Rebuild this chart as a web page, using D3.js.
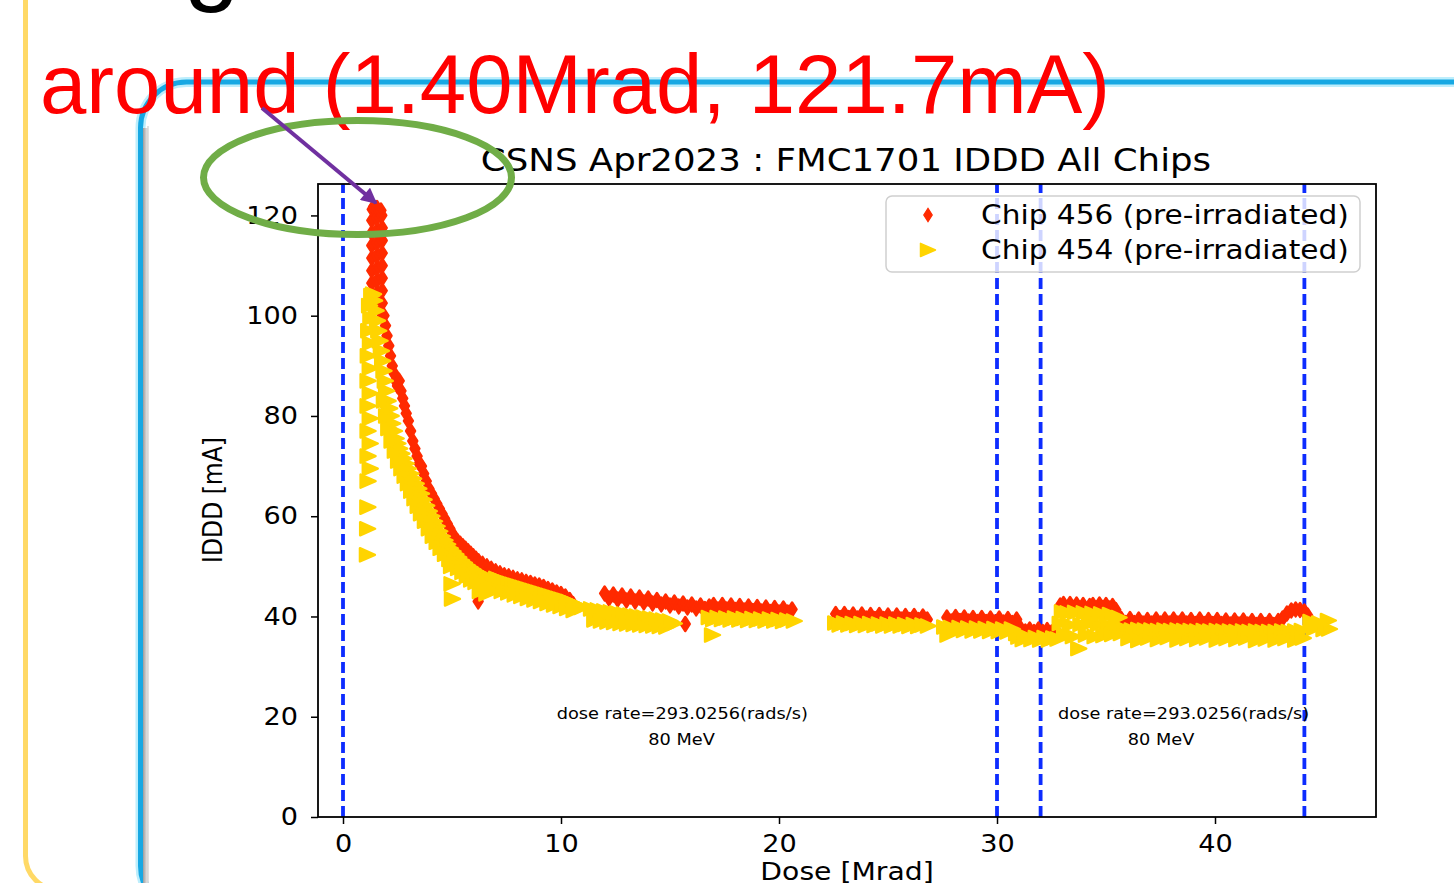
<!DOCTYPE html>
<html>
<head>
<meta charset="utf-8">
<script src="https://cdn.jsdelivr.net/npm/d3@7"></script>
<style>
body { margin: 0; background: #fff; overflow: hidden; }
text { font-family: "DejaVu Sans", sans-serif; fill: #000; }
</style>
</head>
<body>
<svg id="slide"></svg>
<script>
// chip 456 (red diamonds): [dose Mrad, IDDD mA]
var chip456 = [
  [1.32,104],[1.32,106.5],[1.32,109],[1.32,111.5],[1.32,114],[1.32,116.5],[1.32,119],[1.34,121.2],[1.40,121.7],
  [1.56,102],[1.56,104.5],[1.56,107],[1.56,109.5],[1.56,112],[1.56,114.5],[1.56,117],[1.56,119.5],[1.56,121.5],
  [1.80,100],[1.80,102.5],[1.80,105],[1.80,107.5],[1.80,110],[1.80,112.5],[1.80,115],[1.80,117.5],[1.78,120],[1.74,121],
  [1.88,100],[1.95,98],[2.02,96],[2.1,94],[2.18,92],[2.26,90],[2.34,88.5],[2.42,87],[2.5,86],[2.58,87],[2.66,85],[2.74,83.5],[2.82,82],[2.9,80.5],[3.0,79],[3.1,77],[3.2,75],[3.3,73.5],[3.4,72],[3.5,70.5],[3.6,70],[3.7,68.5],[3.82,67],[3.94,65.5],[4.06,64.5],[4.18,63.5],[4.3,62.5],[4.42,61.5],[4.54,60.5],[4.66,59.5],[4.78,58.5],[4.9,57.5],[5.02,56.5],[5.14,55.5],[5.26,55],[5.38,54.5],[5.5,54],[5.62,53.5],[5.74,53],[5.86,52.5],[5.98,52],[6.1,51.5],[6.15,47],[6.2,43],[6.22,51],[6.4,50.5],[6.6,50],[6.8,49.5],[7.0,49],[7.2,48.6],[7.4,48.2],[7.6,48],[7.8,47.7],[8.0,47.4],[8.2,47.2],[8.4,46.9],[8.6,46.7],[8.8,46.4],[9.0,46.2],[9.2,45.9],[9.4,45.5],[9.6,45.2],[9.8,44.8],[10.0,44.5],[10.2,44.0],[10.4,43.3],[10.55,42.5],
  [12.0,44.6],[12.2,43.6],[12.4,44.4],[12.6,43.4],[12.8,44.2],[13.0,43.2],[13.2,44.0],[13.4,43.0],[13.6,43.8],[13.8,42.8],[14.0,43.6],[14.2,42.6],[14.4,43.3],[14.6,42.4],[14.8,43.0],[15.0,42.2],[15.2,42.8],[15.4,42.0],[15.6,42.6],[15.7,38.5],[15.8,41.8],[16.0,42.4],[16.2,41.6],[16.4,42.2],[16.6,41.5],[16.8,42.0],
  [17.0,42.3],[17.2,41.4],[17.4,42.3],[17.6,41.4],[17.8,42.2],[18.0,41.3],[18.2,42.1],[18.4,41.2],[18.6,42.0],[18.8,41.1],[19.0,41.9],[19.2,41.0],[19.4,41.8],[19.6,40.9],[19.8,41.7],[20.0,40.8],[20.2,41.6],[20.4,40.8],[20.6,41.4],
  [22.6,40.5],[22.8,39.7],[23.0,40.5],[23.2,39.7],[23.4,40.4],[23.6,39.6],[23.8,40.4],[24.0,39.6],[24.2,40.3],[24.4,39.5],[24.6,40.3],[24.8,39.5],[25.0,40.2],[25.2,39.4],[25.4,40.2],[25.6,39.4],[25.8,40.1],[26.0,39.3],[26.2,40.1],[26.4,39.3],[26.6,40.0],[26.8,39.4],
  [27.7,39.8],[27.9,39.0],[28.1,39.9],[28.3,39.1],[28.5,39.8],[28.7,39.0],[28.9,39.7],[29.1,38.9],[29.3,39.7],[29.5,38.9],[29.7,39.6],[29.9,38.8],[30.1,39.6],[30.3,38.8],[30.5,39.5],[30.7,38.7],[30.9,39.4],
  [31.1,37.5],[31.3,37.0],[31.5,37.4],[31.7,36.9],[31.9,37.4],[32.1,36.9],[32.3,37.3],[32.5,36.8],[32.7,37.2],
  [32.9,42.2],[33.05,42.5],[33.2,41.6],[33.35,42.5],[33.5,41.7],[33.65,42.4],[33.8,41.6],[33.95,42.3],[34.1,41.2],[34.25,42.1],[34.4,42.3],[34.55,41.6],[34.7,42.4],[34.85,41.7],[35.0,42.3],[35.15,41.6],[35.3,42.1],[35.45,41.3],
  [35.7,39.5],[35.9,38.7],[36.1,39.5],[36.3,38.7],[36.5,39.4],[36.7,38.6],[36.9,39.3],[37.1,38.6],[37.3,39.4],[37.5,38.6],[37.7,39.4],[37.9,38.6],[38.1,39.4],[38.3,38.6],[38.5,39.4],[38.7,38.6],[38.9,39.3],[39.1,38.5],[39.3,39.4],[39.5,38.5],[39.7,39.3],[39.9,38.5],[40.1,39.3],[40.3,38.5],[40.5,39.2],[40.7,38.4],[40.9,39.2],[41.1,38.4],[41.3,39.2],[41.5,38.4],[41.7,39.1],[41.9,38.3],[42.1,39.1],[42.3,38.3],[42.5,39.1],[42.7,38.3],[42.9,39.1],
  [43.1,39.6],[43.3,40.6],[43.5,41.2],[43.7,41.4],[43.9,41.3],[44.1,41.0],[44.25,40.2]
];

// chip 454 (yellow triangles): [dose Mrad, IDDD mA]
var chip454 = [
  [1.12,52.3],[1.13,57.5],[1.14,61.8],[1.15,67],[1.25,69.5],[1.15,72],[1.25,74.5],[1.15,77],[1.25,79.5],[1.15,82],[1.25,84.5],[1.15,87],[1.25,89.5],[1.16,92],[1.26,94.5],[1.18,97],[1.28,99.5],[1.22,102],[1.32,104],[1.4,104.3],
  [1.45,103],[1.52,101],[1.58,99],[1.64,97],[1.7,95],[1.76,93],[1.82,91],[1.88,89],[1.94,87],[2.0,85],[2.07,83],[2.14,81.5],[2.21,80],[2.28,78.5],[2.36,77],[2.44,75.5],[2.52,74.5],[2.6,73.5],[2.7,72.5],[2.8,71.5],[2.9,70.5],[3.0,69.5],[3.12,68.5],[3.24,67.5],[3.36,66.5],[3.48,65.5],[3.6,64.5],[3.72,63.3],[3.84,62.1],[3.96,61],[4.08,60],[4.2,59],[4.32,58],[4.44,57],[4.56,56],[4.68,55.2],[4.8,54.4],[4.92,53.6],[4.98,50],[5.0,46.5],[5.02,43.5],[5.05,53],[5.18,52.4],[5.31,51.8],[5.44,51.2],[5.57,50.7],[5.7,50.2],[5.83,49.8],[5.96,49.4],[6.09,49],[6.22,48.7],[6.3,45],[6.35,48.4],[6.48,48.1],[6.6,44.5],[6.62,47.8],[6.76,47.5],[6.9,47.2],[7.0,46],
  [7.05,47.6],[7.2,47.3],[7.35,47.0],[7.5,46.8],[7.65,46.6],[7.8,46.4],[7.95,46.2],[8.1,46.0],[8.25,45.8],[8.4,45.6],[8.55,45.4],[8.7,45.2],[8.85,45.0],[9.0,44.8],[9.15,44.6],[9.3,44.4],[9.45,44.2],[9.6,44.0],[9.75,43.8],[9.9,43.6],[10.05,43.4],[10.2,43.2],[10.35,43.0],[10.5,42.7],[10.65,42.4],[10.8,42.1],[10.95,41.8],
  [1.9,83],[2.0,80],[2.1,77.5],[2.25,75],[2.4,73],[2.55,71],[2.7,69.5],[2.85,68],[3.0,66.5],[3.15,65],[3.3,63.5],[3.45,62],[3.6,60.5],[3.78,59],[3.96,57.5],[4.14,56],[4.32,54.8],[4.5,53.6],[4.7,52.4],[4.9,51.4],[5.1,50.5],[5.3,49.6],[5.5,48.8],[5.7,48.0],[5.9,47.3],[6.1,46.8],[6.4,46.4],[6.7,45.9],[7.0,45.4],[7.3,45.0],[7.6,44.7],[7.9,44.3],[8.2,44.0],[8.5,43.6],[8.8,43.3],[9.1,43.0],[9.4,42.6],[9.7,42.3],[10.0,42.0],[10.3,41.6],[10.6,41.2],
  [11.4,41.5],[11.55,39.3],[11.7,41.3],[11.85,39.1],[12.0,41.1],[12.15,38.9],[12.3,40.9],[12.45,38.8],[12.6,40.7],[12.75,38.6],[12.9,40.5],[13.05,38.5],[13.2,40.3],[13.35,38.4],[13.5,40.1],[13.65,38.3],[13.8,39.9],[13.95,38.2],[14.1,39.7],[14.25,38.1],[14.4,39.5],[14.55,38.0],[14.7,39.3],[14.85,37.9],[15.0,39.1],[15.2,38.6],
  [16.95,36.3],
  [16.8,39.8],[17.0,39.4],[17.2,39.8],[17.4,39.4],[17.6,39.7],[17.8,39.3],[18.0,39.7],[18.2,39.3],[18.4,39.6],[18.6,39.2],[18.8,39.6],[19.0,39.2],[19.2,39.5],[19.4,39.1],[19.6,39.5],[19.8,39.1],[20.0,39.4],[20.2,39.0],[20.4,39.3],[20.7,39.1],
  [22.6,38.7],[22.8,38.3],[23.0,38.7],[23.2,38.3],[23.4,38.6],[23.6,38.2],[23.8,38.6],[24.0,38.2],[24.2,38.6],[24.4,38.2],[24.6,38.5],[24.8,38.1],[25.0,38.5],[25.2,38.1],[25.4,38.5],[25.6,38.1],[25.8,38.4],[26.0,38.0],[26.2,38.4],[26.4,38.0],[26.6,38.3],[26.85,38.1],
  [27.6,37.9],[27.75,36.3],[27.9,37.8],[28.1,37.2],[28.3,37.8],[28.5,37.2],[28.7,37.7],[28.9,37.1],[29.1,37.7],[29.3,37.1],[29.5,37.6],[29.7,37.0],[29.9,37.6],[30.1,37.0],[30.3,37.5],[30.5,36.9],[30.7,37.5],[30.9,36.6],
  [31.0,35.9],[31.2,35.4],[31.4,35.9],[31.6,35.4],[31.8,35.8],[32.0,35.3],[32.2,35.8],[32.4,35.3],[32.6,35.7],[32.8,35.5],
  [32.9,38.6],[33.0,40.9],[33.1,36.4],[33.25,40.7],[33.35,38.3],[33.5,36.0],[33.6,40.8],[33.75,33.6],[33.85,38.4],[34.0,40.7],[34.1,36.3],[34.25,38.6],[34.4,40.6],[34.5,36.0],[34.65,38.4],[34.8,40.5],[34.9,36.2],[35.05,38.3],[35.2,40.4],[35.3,36.4],[35.45,38.2],[35.6,39.8],[35.7,36.6],
  [35.9,37.4],[36.2,37.3],[36.5,37.4],[36.8,37.3],[37.1,37.3],[37.4,37.2],[37.7,37.3],[38.0,37.2],[38.3,37.3],[38.6,37.2],[38.9,37.2],[39.2,37.1],[39.5,37.2],[39.8,37.1],[40.1,37.2],[40.4,37.1],[40.7,37.1],[41.0,37.0],[41.3,37.1],[41.6,37.0],[41.9,37.1],[42.2,37.0],[42.5,37.0],[42.8,37.0],[43.1,37.1],[43.4,37.0],[43.7,37.1],[44.0,37.2],
  [36.05,35.6],[36.5,35.2],[36.95,35.7],[37.4,35.4],[37.85,35.8],[38.3,35.3],[38.75,35.6],[39.2,35.4],[39.65,35.7],[40.1,35.3],[40.55,35.6],[41.0,35.4],[41.45,35.7],[41.9,35.2],[42.35,35.5],[42.8,35.3],[43.25,35.6],[43.7,35.3],[44.05,35.7],
  [44.4,39.0],[44.55,37.6],[44.8,38.7],[45.0,37.4],[45.2,39.2],[45.25,37.5]
];

var xTicks = [0, 10, 20, 30, 40];
var yTicks = [0, 20, 40, 60, 80, 100, 120];
var doseMarks = [0, 30, 32.0, 44.1];   // blue dashed lines
var seriesNames = ["Chip 456 (pre-irradiated)", "Chip 454 (pre-irradiated)"];
var notes = [
  {x: 9.8,  y: 19.5, text: "dose rate=293.0256(rads/s)"},
  {x: 14.0, y: 14.3, text: "80 MeV"},
  {x: 32.8, y: 19.5, text: "dose rate=293.0256(rads/s)"},
  {x: 36.0, y: 14.3, text: "80 MeV"}
];
var peakNote = "around (1.40Mrad, 121.7mA)";

var sx = 1.13;   // the plot picture sits stretched sideways on the slide
var red = "#ff2a00", gold = "#ffd400";
var diamond = "M0,-7L4.5,0L0,7L-4.5,0Z";
var triangle = "M7.5,0L-7.5,-6.6L-7.5,6.6Z";

var svg = d3.select("#slide").attr("width", 1454).attr("height", 883);

// ---- slide frame pieces
svg.append("rect").attr("x", 25.5).attr("y", -60).attr("width", 1700).attr("height", 950).attr("rx", 34)
  .attr("fill", "none").attr("stroke", "#ffd966").attr("stroke-width", 5);

svg.append("text").attr("x", 184).attr("y", -8).style("font-family", "Liberation Sans")
  .style("font-size", "100px").text("g");

var defs = svg.append("defs");
var sh = defs.append("linearGradient").attr("id", "shade");
sh.append("stop").attr("offset", 0).attr("stop-color", "#9c9c9c");
sh.append("stop").attr("offset", 1).attr("stop-color", "#f2f2f2");

svg.append("rect").attr("x", 140.5).attr("y", 82).attr("width", 1700).attr("height", 830).attr("rx", 46)
  .attr("fill", "none").attr("stroke", "#bdeefc").attr("stroke-width", 10);
svg.append("rect").attr("x", 140.5).attr("y", 82).attr("width", 1700).attr("height", 830).attr("rx", 46)
  .attr("fill", "none").attr("stroke", "#17a8e3").attr("stroke-width", 5);
svg.append("rect").attr("x", 143).attr("y", 128).attr("width", 5).attr("height", 760).attr("fill", "url(#shade)");
svg.append("line").attr("x1", 148).attr("x2", 148).attr("y1", 126).attr("y2", 883)
  .attr("stroke", "#c4c4c4").attr("stroke-width", 1);

// ---- the plot
var x = d3.scaleLinear().domain([-1.147, 47.385]).range([318, 1376]);
var y = d3.scaleLinear().domain([0, 126.27]).range([817, 184]);

var plot = svg.append("g");

plot.selectAll("line.dose")
  .data(doseMarks)
  .enter()
  .append("line")
  .attr("class", "dose")
  .attr("x1", function(d){ return x(d); })
  .attr("x2", function(d){ return x(d); })
  .attr("y1", y(0))
  .attr("y2", y.range()[1])
  .attr("stroke", "#0d2cff")
  .attr("stroke-width", 3.8)
  .attr("stroke-dasharray", "11,5");

plot.selectAll("path.c456")
  .data(chip456)
  .enter()
  .append("path")
  .attr("class", "c456")
  .attr("d", diamond)
  .attr("transform", function(d){ return "translate(" + x(d[0]) + "," + y(d[1]) + ")"; })
  .attr("fill", red)
  .attr("stroke", red)
  .attr("stroke-width", 2.4)
  .attr("stroke-linejoin", "round");

plot.selectAll("path.c454")
  .data(chip454)
  .enter()
  .append("path")
  .attr("class", "c454")
  .attr("d", triangle)
  .attr("transform", function(d){ return "translate(" + x(d[0]) + "," + y(d[1]) + ")"; })
  .attr("fill", gold)
  .attr("stroke", gold)
  .attr("stroke-width", 2.4)
  .attr("stroke-linejoin", "round");

// frame
plot.append("rect").attr("x", 318).attr("y", 184).attr("width", 1058).attr("height", 633)
  .attr("fill", "none").attr("stroke", "#000").attr("stroke-width", 1.8);

var yAxis = plot.append("g").attr("transform", "translate(318,0)")
  .call(d3.axisLeft(y).tickValues(yTicks).tickSize(7).tickSizeOuter(0).tickFormat(d3.format("d")));
yAxis.select(".domain").remove();
yAxis.selectAll(".tick line").attr("stroke", "#000").attr("stroke-width", 1.5);
yAxis.selectAll(".tick text").attr("x", -20 / sx).attr("transform", "scale(" + sx + ",1)")
  .style("font-size", "24px").style("font-family", "DejaVu Sans");

var xAxis = plot.append("g").attr("transform", "translate(0,817)")
  .call(d3.axisBottom(x).tickValues(xTicks).tickSize(7).tickPadding(10.5).tickSizeOuter(0).tickFormat(d3.format("d")));
xAxis.select(".domain").remove();
xAxis.selectAll(".tick line").attr("stroke", "#000").attr("stroke-width", 1.5);
xAxis.selectAll(".tick text").attr("transform", "scale(" + sx + ",1)")
  .style("font-size", "24px").style("font-family", "DejaVu Sans");

var stretched = function(px, py, txt, size, anchor)
{
  return plot.append("text")
    .attr("transform", "translate(" + px + "," + py + ") scale(" + sx + ",1)")
    .attr("text-anchor", anchor)
    .style("font-size", size + "px")
    .text(txt);
}

stretched(846, 171, "CSNS Apr2023 : FMC1701 IDDD All Chips", 31.5, "middle");
stretched(847, 880, "Dose [Mrad]", 25, "middle");
plot.append("text")
  .attr("transform", "translate(222,500) scale(" + sx + ",1) rotate(-90)")
  .attr("text-anchor", "middle")
  .style("font-size", "23.5px")
  .text("IDDD [mA]");

notes.forEach(function(n)
{
  stretched(x(n.x), y(n.y), n.text, 15.7, "start");
});

// legend
var legend = plot.append("g");
legend.append("rect").attr("x", 886).attr("y", 196).attr("width", 474).attr("height", 76).attr("rx", 6)
  .attr("fill", "#fff").attr("fill-opacity", 0.8).attr("stroke", "#cfcfcf").attr("stroke-width", 1.5);
legend.append("path").attr("d", diamond).attr("transform", "translate(928,215) scale(0.95)")
  .attr("fill", red).attr("stroke", red).attr("stroke-width", 1.2);
legend.append("path").attr("d", triangle).attr("transform", "translate(928,250)")
  .attr("fill", gold).attr("stroke", gold).attr("stroke-width", 1.5).attr("stroke-linejoin", "round");
seriesNames.forEach(function(s, i)
{
  legend.append("text")
    .attr("transform", "translate(981," + (224 + i * 35) + ") scale(" + sx + ",1)")
    .style("font-size", "26.2px")
    .text(s);
});

// ---- slide callout on top
svg.append("text").attr("x", 40).attr("y", 113)
  .attr("textLength", 1070).attr("lengthAdjust", "spacingAndGlyphs")
  .style("font-family", "Liberation Sans").style("font-size", "83px").style("fill", "#ff0000")
  .text(peakNote);

svg.append("ellipse").attr("cx", 357.5).attr("cy", 177.5).attr("rx", 154).attr("ry", 57)
  .attr("fill", "none").attr("stroke", "#70ad47").attr("stroke-width", 7);

defs.append("marker").attr("id", "head").attr("viewBox", "0 0 10 10").attr("refX", 9).attr("refY", 5)
  .attr("markerWidth", 4.2).attr("markerHeight", 4).attr("orient", "auto").attr("markerUnits", "strokeWidth")
  .append("path").attr("d", "M0,0L10,5L0,10Z").attr("fill", "#7030a0");
svg.append("line").attr("x1", 262).attr("y1", 108).attr("x2", 376).attr("y2", 203)
  .attr("stroke", "#7030a0").attr("stroke-width", 4).attr("marker-end", "url(#head)");
</script>
</body>
</html>
